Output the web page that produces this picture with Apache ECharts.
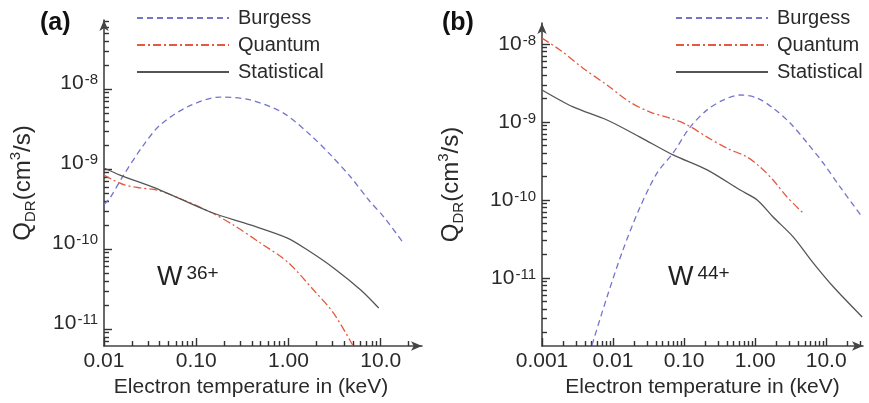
<!DOCTYPE html>
<html><head><meta charset="utf-8">
<script src="https://cdn.jsdelivr.net/npm/echarts@6/dist/echarts.min.js"></script>
<style>html,body{margin:0;padding:0;background:#fff}#c{width:869px;height:403px}</style>
</head><body><div id="c"></div>
<script>
// ---------- Panel (a): W36+ ----------
const aBurgessT = [0.01, 0.0116, 0.0161, 0.0259, 0.0406, 0.0798, 0.182, 0.386, 0.883, 1.73, 2.86, 4.72, 7.41, 10.8, 17.3];
const aBurgessQ = [3.6e-10, 4.34e-10, 8.2e-10, 1.88e-9, 3.55e-9, 5.96e-9, 7.94e-9, 7.3e-9, 5.0e-9, 2.66e-9, 1.50e-9, 7.94e-10, 4.1e-10, 2.51e-10, 1.22e-10];
const aQuantumT = [0.01, 0.01253, 0.0169, 0.0246, 0.0377, 0.0723, 0.142, 0.252, 0.496, 0.975, 1.87, 3.08, 5.09];
const aQuantumQ = [8.4e-10, 7.3e-10, 6.3e-10, 5.8e-10, 5.46e-10, 4.1e-10, 2.9e-10, 2.0e-10, 1.19e-10, 6.9e-11, 3.07e-11, 1.58e-11, 5.96e-12];
const aStatT = [0.01, 0.0149, 0.0406, 0.142, 0.386, 0.975, 1.61, 3.08, 6.07, 9.5];
const aStatQ = [1.03e-9, 8.4e-10, 5.46e-10, 2.9e-10, 2.0e-10, 1.37e-10, 9.7e-11, 5.8e-11, 3.07e-11, 1.83e-11];

// ---------- Panel (b): W44+ ----------
const bBurgessT = [0.00506, 0.00822, 0.0138, 0.0240, 0.0417, 0.070, 0.1216, 0.211, 0.354, 0.615, 1.07, 1.79, 3.11, 5.40, 9.08, 15.7, 32.1];
const bBurgessQ = [1.38e-12, 5.7e-12, 2.29e-11, 8.1e-11, 2.22e-10, 4.0e-10, 8.6e-10, 1.43e-9, 1.91e-9, 2.22e-9, 2.03e-9, 1.51e-9, 9.7e-10, 5.4e-10, 2.98e-10, 1.47e-10, 6.05e-11];
const bQuantumT = [0.001, 0.00179, 0.00378, 0.00822, 0.0173, 0.0332, 0.0635, 0.110, 0.211, 0.404, 0.771, 1.175, 1.79, 2.82, 4.74];
const bQuantumQ = [1.19e-8, 8.4e-9, 4.9e-9, 2.98e-9, 1.80e-9, 1.34e-9, 1.12e-9, 9.2e-10, 6.4e-10, 4.6e-10, 3.56e-10, 2.65e-10, 1.80e-10, 1.09e-10, 6.8e-11];
const bStatT = [0.001, 0.00274, 0.00822, 0.0240, 0.070, 0.211, 0.615, 1.07, 1.79, 3.43, 6.56, 12.6, 32.1];
const bStatQ = [2.57e-9, 1.56e-9, 1.06e-9, 6.4e-10, 3.78e-10, 2.43e-10, 1.34e-10, 1.0e-10, 6.05e-11, 3.36e-11, 1.56e-11, 7.7e-12, 3.16e-12];

// ---------- Axes / labels ----------
const seriesNames = ['Burgess', 'Quantum', 'Statistical'];
const xMajorA = [0.01, 0.1, 1, 10];
const xLabelsA = ['0.01', '0.10', '1.00', '10.0'];
const xMajorB = [0.001, 0.01, 0.1, 1, 10];
const xLabelsB = ['0.001', '0.01', '0.10', '1.00', '10.0'];
const yMajor = [1e-11, 1e-10, 1e-9, 1e-8];
const yExp = ['-11', '-10', '-9', '-8'];
const xTitle = 'Electron temperature in (keV)';
const ionA = ['W', '36+'];
const ionB = ['W', '44+'];

const FONT = '"Liberation Sans", Arial, Helvetica, sans-serif';
const AXIS = '#444444';
const TICK = '#333333';
const TXT = '#2a2a2a';
const colors = ['#7474cc', '#e35a40', '#555555'];
const lineTypes = [[6, 4], [8, 3, 2, 3], 'solid'];

function zip(xs, ys) { return xs.map((x, i) => [x, ys[i]]); }
function minorTicks(lo, hi) {
  const out = [];
  for (let d = Math.floor(Math.log10(lo)); d <= Math.ceil(Math.log10(hi)); d++) {
    for (let k = 2; k <= 9; k++) {
      const v = Number((k * Math.pow(10, d)).toPrecision(10));
      if (v > lo && v < hi) out.push(v);
    }
  }
  return out;
}
function lookup(v, majors, labels) {
  for (let i = 0; i < majors.length; i++) {
    if (Math.abs(Math.log10(v) - Math.log10(majors[i])) < 0.01) return labels[i];
  }
  return '';
}
const lg = a => a.map(v => Math.log10(v));

const xRangeA = [0.01, 28], xRangeB = [0.001, 33];
const yRangeA = [6.13e-12, 7.29e-8], yRangeB = [1.34e-12, 1.86e-8];

// tick-only axes, laid over the log axes in exponent space
function tickAxis(grid, range, ticks, len, pos) {
  return {
    type: 'value', gridIndex: grid, min: Math.log10(range[0]), max: Math.log10(range[1]), position: pos,
    axisLine: { show: false, onZero: false }, splitLine: { show: false }, axisLabel: { show: false },
    axisTick: { show: true, inside: true, length: len, lineStyle: { color: TICK, width: 1.4 }, customValues: lg(ticks) },
    silent: true
  };
}

function xAxesFor(grid, range, majors, labels, namePad) {
  return [
    { type: 'log', logBase: 10, gridIndex: grid, min: range[0], max: range[1], position: 'bottom',
      splitLine: { show: false }, minorTick: { show: false },
      axisLine: { show: true, onZero: false, lineStyle: { color: AXIS, width: 1.6 }, symbol: ['none', 'arrow'], symbolSize: [7, 11] },
      axisTick: { show: false },
      axisLabel: { show: true, customValues: majors, margin: 5, color: TXT, fontSize: 21, fontFamily: FONT,
        formatter: v => lookup(v, majors, labels) },
      name: xTitle, nameLocation: 'middle', nameGap: 31,
      nameTextStyle: { color: TXT, fontSize: 21, fontFamily: FONT, padding: namePad } },
    tickAxis(grid, range, majors, 8, 'bottom'),
    tickAxis(grid, range, minorTicks(range[0], range[1]), 5, 'bottom')
  ];
}
function yAxesFor(grid, range, gap, labelPad) {
  return [
    { type: 'log', logBase: 10, gridIndex: grid, min: range[0], max: range[1], position: 'left',
      splitLine: { show: false }, minorTick: { show: false },
      axisLine: { show: true, onZero: false, lineStyle: { color: AXIS, width: 1.6 }, symbol: ['none', 'arrow'], symbolSize: [7, 11] },
      axisTick: { show: false },
      axisLabel: { show: true, customValues: yMajor, margin: 6, color: TXT, fontFamily: FONT, padding: labelPad,
        formatter: v => '{b|10}{s|' + lookup(v, yMajor, yExp) + '}',
        rich: {
          b: { fontSize: 21, lineHeight: 21, verticalAlign: 'bottom', fontFamily: FONT, color: TXT },
          s: { fontSize: 15, lineHeight: 15, verticalAlign: 'top', padding: [0, 0, 14, 1], fontFamily: FONT, color: TXT }
        } },
      name: '{q|Q}{d|DR}{n|(cm}{u|3}{n|/s)}', nameLocation: 'middle', nameRotate: 90, nameGap: gap,
      nameTextStyle: { color: TXT, fontFamily: FONT, rich: {
        q: { fontSize: 24, lineHeight: 30, verticalAlign: 'middle', fontFamily: FONT, color: TXT },
        n: { fontSize: 24, lineHeight: 30, verticalAlign: 'middle', fontFamily: FONT, color: TXT },
        d: { fontSize: 15, lineHeight: 15, verticalAlign: 'bottom', fontFamily: FONT, color: TXT },
        u: { fontSize: 15, lineHeight: 15, verticalAlign: 'top', fontFamily: FONT, color: TXT }
      } } },
    tickAxis(grid, range, yMajor, 8, 'left'),
    tickAxis(grid, range, minorTicks(range[0], range[1]), 5, 'left')
  ];
}

function mkSeries(name, idx, data, axisIdx) {
  return {
    name: name, type: 'line', xAxisIndex: axisIdx, yAxisIndex: axisIdx, data: data,
    showSymbol: false, symbol: 'none', smooth: 0.3, silent: true,
    lineStyle: { color: colors[idx], width: 1.3, type: lineTypes[idx] },
    itemStyle: { color: colors[idx] }, z: 3 + idx
  };
}

const legendBase = {
  data: seriesNames, orient: 'vertical', itemWidth: 92, itemHeight: 12, itemGap: 7,
  textStyle: { fontSize: 20, fontFamily: FONT, color: TXT, padding: [0, 0, 0, 4] },
  itemStyle: { opacity: 0 },
  selectedMode: false
};

const option = {
  animation: false,
  backgroundColor: '#ffffff',
  grid: [
    { left: 104, right: 447, top: 20, bottom: 57 },
    { left: 542, right: 6, top: 23, bottom: 57 }
  ],
  xAxis: xAxesFor(0, xRangeA, xMajorA, xLabelsA, [0, 24, 0, 0]).concat(xAxesFor(1, xRangeB, xMajorB, xLabelsB, [0, 0, 0, 0])),
  yAxis: yAxesFor(0, yRangeA, 66, [0, 0, 12, 0]).concat(yAxesFor(1, yRangeB, 76, [0, 0, 0, 0])),
  legend: [
    Object.assign({}, legendBase, { left: 131, top: 3 }),
    Object.assign({}, legendBase, { left: 670, top: 3 })
  ],
  graphic: [
    { type: 'text', left: 40, top: 11, style: { text: '(a)', font: 'bold 25px ' + FONT, fill: '#111' } },
    { type: 'text', left: 442, top: 11, style: { text: '(b)', font: 'bold 25px ' + FONT, fill: '#111' } },
    { type: 'text', left: 157, top: 264, style: { text: '{w|' + ionA[0] + '}{s|' + ionA[1] + '}', rich: {
      w: { fontSize: 27, lineHeight: 27, verticalAlign: 'bottom', fontFamily: FONT, fill: '#222' },
      s: { fontSize: 19, lineHeight: 19, verticalAlign: 'top', padding: [0, 0, 20, 4], fontFamily: FONT, fill: '#222' } } } },
    { type: 'text', left: 668, top: 264, style: { text: '{w|' + ionB[0] + '}{s|' + ionB[1] + '}', rich: {
      w: { fontSize: 27, lineHeight: 27, verticalAlign: 'bottom', fontFamily: FONT, fill: '#222' },
      s: { fontSize: 19, lineHeight: 19, verticalAlign: 'top', padding: [0, 0, 20, 4], fontFamily: FONT, fill: '#222' } } } }
  ],
  series: [
    mkSeries('Burgess', 0, zip(aBurgessT, aBurgessQ), 0),
    mkSeries('Quantum', 1, zip(aQuantumT, aQuantumQ), 0),
    mkSeries('Statistical', 2, zip(aStatT, aStatQ), 0),
    mkSeries('Burgess', 0, zip(bBurgessT, bBurgessQ), 3),
    mkSeries('Quantum', 1, zip(bQuantumT, bQuantumQ), 3),
    mkSeries('Statistical', 2, zip(bStatT, bStatQ), 3)
  ]
};

const chart = echarts.init(document.getElementById('c'), null, { renderer: 'canvas' });
chart.setOption(option);
</script>
</body></html>
